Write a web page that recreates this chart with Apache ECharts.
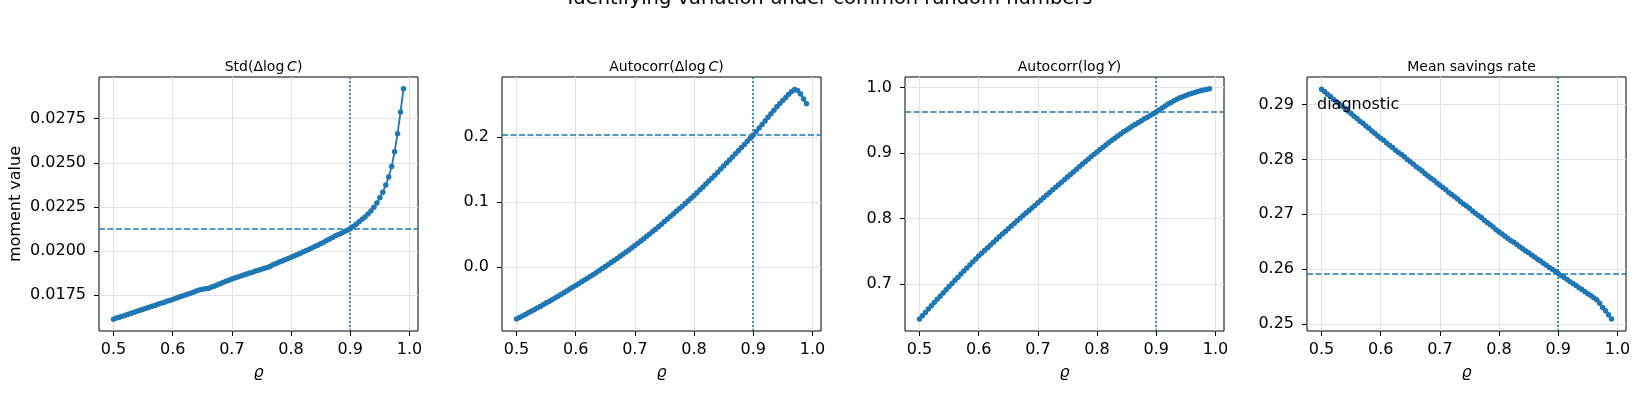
<!DOCTYPE html>
<html>
<head>
<meta charset="utf-8">
<title>Identifying variation under common random numbers</title>
<script src="https://cdn.jsdelivr.net/npm/echarts@6/dist/echarts.min.js"></script>
<style>
  html, body { margin: 0; padding: 0; background: #fff; }
  #chart { width: 1650px; height: 400px; }
</style>
</head>
<body>
<div id="chart"></div>
<script>
// persistence grid (rho) shared by all four panels
const rho = [
  0.5, 0.505, 0.51, 0.515, 0.52, 0.525, 0.53, 0.535, 0.54, 0.545,
  0.55, 0.555, 0.56, 0.565, 0.57, 0.575, 0.58, 0.585, 0.59, 0.595,
  0.6, 0.605, 0.61, 0.615, 0.62, 0.625, 0.63, 0.635, 0.64, 0.645,
  0.65, 0.655, 0.66, 0.665, 0.67, 0.675, 0.68, 0.685, 0.69, 0.695,
  0.7, 0.705, 0.71, 0.715, 0.72, 0.725, 0.73, 0.735, 0.74, 0.745,
  0.75, 0.755, 0.76, 0.765, 0.77, 0.775, 0.78, 0.785, 0.79, 0.795,
  0.8, 0.805, 0.81, 0.815, 0.82, 0.825, 0.83, 0.835, 0.84, 0.845,
  0.85, 0.855, 0.86, 0.865, 0.87, 0.875, 0.88, 0.885, 0.89, 0.895,
  0.9, 0.905, 0.91, 0.915, 0.92, 0.925, 0.93, 0.935, 0.94, 0.945,
  0.95, 0.955, 0.96, 0.965, 0.97, 0.975, 0.98, 0.985, 0.99
];

const stdDlogC = [
  0.01615, 0.01621, 0.01626, 0.01632, 0.01637, 0.01643, 0.01649, 0.01654, 0.01660, 0.01665,
  0.01671, 0.01677, 0.01682, 0.01688, 0.01693, 0.01699, 0.01705, 0.01710, 0.01716, 0.01721,
  0.01727, 0.01733, 0.01739, 0.01745, 0.01750, 0.01756, 0.01762, 0.01768, 0.01774, 0.01780,
  0.01784, 0.01787, 0.01789, 0.01795, 0.01801, 0.01808, 0.01815, 0.01822, 0.01829, 0.01836,
  0.01843, 0.01848, 0.01854, 0.01859, 0.01865, 0.01870, 0.01876, 0.01881, 0.01887, 0.01892,
  0.01898, 0.01903, 0.01908, 0.01914, 0.01924, 0.01930, 0.01938, 0.01945, 0.01952, 0.01959,
  0.01966, 0.01973, 0.01980, 0.01987, 0.01995, 0.02003, 0.02010, 0.02018, 0.02026, 0.02034,
  0.02042, 0.02051, 0.02060, 0.02069, 0.02078, 0.02087, 0.02094, 0.02102, 0.02110, 0.02118,
  0.02127, 0.02139, 0.02152, 0.02166, 0.02180, 0.02194, 0.02210, 0.02228, 0.02249, 0.02272,
  0.02302, 0.02334, 0.02374, 0.02420, 0.02480, 0.02563, 0.02665, 0.02788, 0.02920
];

const acDlogC = [
  -0.0795, -0.0772, -0.0749, -0.0725, -0.0701, -0.0677, -0.0652, -0.0627, -0.0602, -0.0577,
  -0.0551, -0.0525, -0.0499, -0.0472, -0.0445, -0.0418, -0.0391, -0.0363, -0.0335, -0.0307,
  -0.0279, -0.0252, -0.0224, -0.0196, -0.0167, -0.0138, -0.0109, -0.0080, -0.0050, -0.0020,
  0.0011, 0.0042, 0.0073, 0.0105, 0.0137, 0.0169, 0.0201, 0.0234, 0.0267, 0.0301,
  0.0335, 0.0370, 0.0405, 0.0441, 0.0477, 0.0513, 0.0550, 0.0587, 0.0625, 0.0664,
  0.0703, 0.0742, 0.0781, 0.0821, 0.0861, 0.0901, 0.0941, 0.0981, 0.1022, 0.1063,
  0.1104, 0.1148, 0.1192, 0.1237, 0.1282, 0.1327, 0.1372, 0.1418, 0.1464, 0.1511,
  0.1558, 0.1605, 0.1652, 0.1699, 0.1746, 0.1794, 0.1842, 0.1890, 0.1938, 0.1987,
  0.2036, 0.2089, 0.2143, 0.2197, 0.2252, 0.2307, 0.2362, 0.2417, 0.2470, 0.2520,
  0.2568, 0.2614, 0.2662, 0.2705, 0.2735, 0.2720, 0.2666, 0.2589, 0.2517
];

const acLogY = [
  0.6470, 0.6520, 0.6571, 0.6621, 0.6671, 0.6721, 0.6770, 0.6819, 0.6868, 0.6917,
  0.6965, 0.7013, 0.7061, 0.7108, 0.7155, 0.7202, 0.7248, 0.7294, 0.7340, 0.7385,
  0.7430, 0.7473, 0.7516, 0.7558, 0.7600, 0.7642, 0.7684, 0.7725, 0.7766, 0.7807,
  0.7848, 0.7888, 0.7928, 0.7968, 0.8008, 0.8048, 0.8087, 0.8126, 0.8165, 0.8204,
  0.8243, 0.8283, 0.8323, 0.8363, 0.8402, 0.8441, 0.8480, 0.8519, 0.8558, 0.8597,
  0.8636, 0.8675, 0.8714, 0.8753, 0.8792, 0.8831, 0.8869, 0.8907, 0.8945, 0.8983,
  0.9020, 0.9056, 0.9092, 0.9127, 0.9162, 0.9196, 0.9230, 0.9263, 0.9295, 0.9326,
  0.9356, 0.9385, 0.9414, 0.9442, 0.9470, 0.9497, 0.9524, 0.9550, 0.9576, 0.9602,
  0.9630, 0.9660, 0.9691, 0.9722, 0.9750, 0.9775, 0.9800, 0.9823, 0.9845, 0.9862,
  0.9882, 0.9898, 0.9913, 0.9927, 0.9940, 0.9952, 0.9963, 0.9974, 0.9985
];

const savingsRate = [
  0.2928, 0.2924, 0.2919, 0.2915, 0.2910, 0.2906, 0.2902, 0.2897, 0.2893, 0.2888,
  0.2884, 0.2879, 0.2875, 0.2870, 0.2866, 0.2861, 0.2857, 0.2852, 0.2848, 0.2843,
  0.2839, 0.2835, 0.2830, 0.2826, 0.2822, 0.2817, 0.2813, 0.2809, 0.2805, 0.2800,
  0.2796, 0.2792, 0.2787, 0.2783, 0.2779, 0.2774, 0.2770, 0.2766, 0.2762, 0.2757,
  0.2753, 0.2749, 0.2745, 0.2740, 0.2736, 0.2732, 0.2728, 0.2723, 0.2719, 0.2715,
  0.2711, 0.2706, 0.2702, 0.2698, 0.2694, 0.2689, 0.2685, 0.2681, 0.2677, 0.2672,
  0.2668, 0.2664, 0.2660, 0.2656, 0.2652, 0.2649, 0.2645, 0.2641, 0.2637, 0.2633,
  0.2630, 0.2626, 0.2622, 0.2618, 0.2615, 0.2611, 0.2607, 0.2603, 0.2600, 0.2596,
  0.2592, 0.2588, 0.2585, 0.2581, 0.2577, 0.2574, 0.2570, 0.2566, 0.2563, 0.2559,
  0.2555, 0.2552, 0.2548, 0.2544, 0.2538, 0.2530, 0.2524, 0.2517, 0.2509
];

// target moments (dashed) and true rho (dotted)
const targetMoments = [0.02127, 0.2036, 0.9634, 0.2592];
const rhoTrue = 0.9;

// panel titles and tick labels
const panelTitles = ["Std(Δlog\u2009{i|C})", "Autocorr(Δlog\u2009{i|C})", "Autocorr(log\u2009{i|Y})", "Mean savings rate"];
const xTicks = [0.5, 0.6, 0.7, 0.8, 0.9, 1.0];
const yTicks = [
  [0.0175, 0.0200, 0.0225, 0.0250, 0.0275],
  [0.0, 0.1, 0.2],
  [0.7, 0.8, 0.9, 1.0],
  [0.25, 0.26, 0.27, 0.28, 0.29]
];
const yDigits = [4, 1, 1, 2];

(function () {
  "use strict";

  const FONT = "DejaVu Sans";
  const BLUE = "#1f77b4";
  const seriesValues = [stdDlogC, acDlogC, acLogY, savingsRate];

  // layout of the four axes boxes (px)
  const lefts = [99, 502, 905, 1307];
  const boxW = 319, boxTop = 77, boxH = 254;
  const xRange = [0.4755, 1.0145];
  const yRanges = [
    [0.01548, 0.02986],
    [-0.098, 0.2928],
    [0.6287, 1.0163],
    [0.24872, 0.29505]
  ];

  const chart = echarts.init(document.getElementById("chart"), null, { renderer: "canvas" });

  const grids = [], xAxes = [], yAxes = [], series = [], titles = [];

  titles.push({
    text: "Identifying variation under common random numbers",
    left: 825, top: -16, textAlign: "center",
    textStyle: { fontFamily: FONT, fontSize: 19.5, fontWeight: "normal", color: "#000" }
  });

  lefts.forEach(function (left, i) {
    grids.push({
      left: left, top: boxTop, width: boxW, height: boxH,
      show: true, borderColor: "#000", borderWidth: 1, backgroundColor: "transparent"
    });

    titles.push({
      text: panelTitles[i],
      left: left + boxW / 2, top: 55, textAlign: "center",
      textStyle: {
        fontFamily: FONT, fontSize: 14, fontWeight: "normal", color: "#000",
        rich: { i: { fontFamily: FONT, fontSize: 14, fontStyle: "italic", color: "#000" } }
      }
    });

    xAxes.push({
      type: "value", gridIndex: i, min: xRange[0], max: xRange[1],
      axisLine: { show: false, onZero: false },
      axisTick: { show: true, inside: false, length: 5, lineStyle: { color: "#000", width: 1 }, customValues: xTicks },
      axisLabel: {
        customValues: xTicks, color: "#000", fontFamily: FONT, fontSize: 16, margin: 11,
        formatter: function (v) { return v.toFixed(1); }
      },
      splitLine: { show: true, lineStyle: { color: "#e3e3e3", width: 1 } },
      name: "ϱ", nameLocation: "middle", nameGap: 34,
      nameTextStyle: { fontFamily: FONT, fontSize: 16, fontStyle: "italic", color: "#000" }
    });

    yAxes.push({
      type: "value", gridIndex: i, min: yRanges[i][0], max: yRanges[i][1],
      axisLine: { show: false, onZero: false },
      axisTick: { show: true, inside: false, length: 5, lineStyle: { color: "#000", width: 1 }, customValues: yTicks[i] },
      axisLabel: {
        customValues: yTicks[i], color: "#000", fontFamily: FONT, fontSize: 16, margin: 13,
        formatter: function (v) { return v.toFixed(yDigits[i]); }
      },
      splitLine: { show: true, lineStyle: { color: "#e3e3e3", width: 1 } }
    });

    series.push({
      type: "line", xAxisIndex: i, yAxisIndex: i,
      data: rho.map(function (r, k) { return [r, seriesValues[i][k]]; }),
      symbol: "circle", symbolSize: 5.5, showSymbol: true,
      lineStyle: { color: BLUE, width: 1.8 },
      itemStyle: { color: BLUE, borderWidth: 0 },
      emphasis: { disabled: true },
      animation: false, z: 3,
      markLine: {
        silent: true, symbol: "none", animation: false, precision: 6,
        label: { show: false },
        emphasis: { disabled: true },
        data: [
          { yAxis: targetMoments[i], lineStyle: { color: BLUE, width: 1.6, type: [6, 2.5] } },
          { xAxis: rhoTrue, lineStyle: { color: BLUE, width: 1.6, type: [2, 2] } }
        ]
      }
    });
  });

  const option = {
    backgroundColor: "#fff",
    animation: false,
    title: titles,
    grid: grids,
    xAxis: xAxes,
    yAxis: yAxes,
    series: series,
    graphic: [
      {
        type: "text", left: 8, top: 146, rotation: Math.PI / 2, originX: 0, originY: 0,
        style: { text: "moment value", fontFamily: FONT, fontSize: 16, fill: "#000" }
      },
      {
        type: "text", left: 1317, top: 97,
        style: { text: "diagnostic", fontFamily: FONT, fontSize: 16, fill: "#000" },
        z: 10
      }
    ]
  };

  chart.setOption(option);
  console.log("chart ready");
})();
</script>
</body>
</html>
